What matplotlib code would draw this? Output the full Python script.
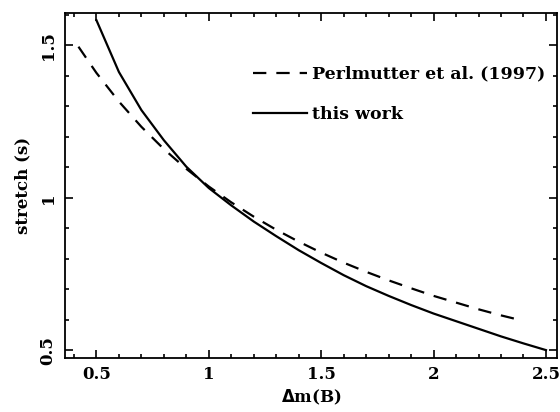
import numpy as np
import matplotlib
matplotlib.use('Agg')
import matplotlib.pyplot as plt
from matplotlib.ticker import MultipleLocator

plt.rcParams['font.family'] = ['DejaVu Serif']
plt.rcParams['font.weight'] = 'bold'
plt.rcParams['axes.labelweight'] = 'bold'
plt.rcParams['mathtext.default'] = 'bf'

# Perlmutter et al. (1997) relation
dm_perl = [0.42, 0.5, 0.6, 0.7, 0.8, 0.9, 1.0, 1.1, 1.2, 1.3, 1.4,
           1.5, 1.6, 1.7, 1.8, 1.9, 2.0, 2.1, 2.2, 2.3, 2.4]
s_perl = [1.496, 1.410, 1.316, 1.233, 1.160, 1.095, 1.037, 0.985, 0.938,
          0.895, 0.856, 0.820, 0.787, 0.757, 0.729, 0.703, 0.678, 0.656,
          0.634, 0.614, 0.596]

# this work
dm_this = [0.5, 0.6, 0.7, 0.8, 0.9, 1.0, 1.1, 1.2, 1.3, 1.4, 1.5,
           1.6, 1.7, 1.8, 1.9, 2.0, 2.1, 2.2, 2.3, 2.4, 2.5]
s_this = [1.583, 1.413, 1.288, 1.189, 1.102, 1.032, 0.975, 0.922, 0.874,
          0.828, 0.786, 0.746, 0.710, 0.678, 0.648, 0.620, 0.595, 0.570,
          0.545, 0.522, 0.500]

fig = plt.figure(figsize=(5.6, 4.12), dpi=100)
ax = fig.add_axes([0.116, 0.131, 0.879, 0.837])

ax.plot(dm_perl, s_perl, color='k', lw=1.6, ls=(0, (6, 4.5)),
        label='Perlmutter et al. (1997)')
ax.plot(dm_this, s_this, color='k', lw=1.6, label='this work')

ax.set_xlim(0.36, 2.55)
ax.set_ylim(0.474, 1.606)
ax.xaxis.set_major_locator(MultipleLocator(0.5))
ax.xaxis.set_minor_locator(MultipleLocator(0.1))
ax.yaxis.set_major_locator(MultipleLocator(0.5))
ax.yaxis.set_minor_locator(MultipleLocator(0.1))
ax.xaxis.set_major_formatter(plt.FuncFormatter(lambda v, p: '%g' % v))
ax.yaxis.set_major_formatter(plt.FuncFormatter(lambda v, p: '%g' % v))

ax.tick_params(which='both', direction='in', top=True, right=True,
               width=1.2, labelsize=12, pad=6)
ax.tick_params(which='major', length=6)
ax.tick_params(which='minor', length=3)
for lab in ax.get_yticklabels():
    lab.set_rotation(90)
    lab.set_va('center')
for sp in ax.spines.values():
    sp.set_linewidth(1.3)

ax.set_xlabel(r'$\Delta$m(B)', fontsize=12, labelpad=3)
ax.set_ylabel('stretch (s)', fontsize=12, labelpad=6)

ax.legend(loc='upper left', bbox_to_anchor=(0.382, 0.848), frameon=False,
          fontsize=12.5, handlelength=3.1, handletextpad=0.3,
          labelspacing=1.35, borderpad=0, borderaxespad=0)

plt.savefig('out.png', dpi=100)
